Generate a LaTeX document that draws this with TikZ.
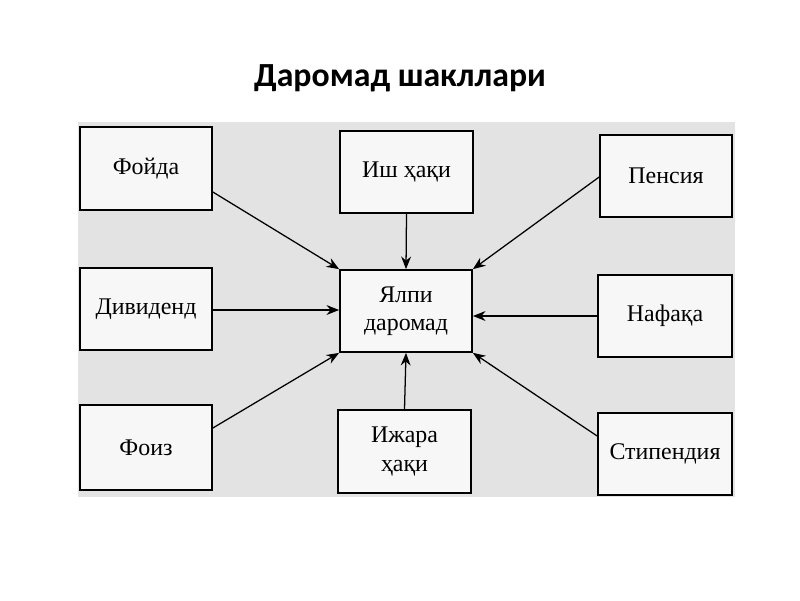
\documentclass[tikz,border=0pt]{standalone}
\usepackage{fontspec}
\setmainfont{Liberation Serif}
\newfontfamily\titlefont{Carlito}
\usetikzlibrary{arrows.meta}
\begin{document}
\begin{tikzpicture}[x=0.025cm,y=-0.025cm,
  box/.style={draw=black,line width=1.2pt,fill=gray!6,font=\fontsize{17}{20}\selectfont,align=center,inner sep=0pt},
  arr/.style={-{Stealth[length=9pt,width=7pt]},line width=0.9pt}]
\useasboundingbox (0,0) rectangle (800,600);
\fill[gray!22] (78,122) rectangle (735,497);
\node[font=\titlefont\bfseries\fontsize{24}{28}\selectfont] (t) at (400,78) {Даромад шакллари};
\newcommand{\bx}[6]{\node[box,minimum width={(#4-#2)*0.025cm},minimum height={(#5-#3)*0.025cm}] (#1) at ({(#2+#4)/2},{(#3+#5)/2}) {#6};}
\bx{a}{80}{127}{212}{210}{Фойда}
\bx{b}{340}{131}{473}{213}{Иш ҳақи}
\bx{c}{600}{135}{732}{217}{Пенсия}
\bx{d}{80}{268}{212}{350}{Дивиденд}
\bx{e}{340}{270}{472}{352}{Ялпи\\даромад}
\bx{f}{598}{275}{732}{357}{Нафақа}
\bx{g}{80}{405}{212}{490}{Фоиз}
\bx{h}{338}{410}{471}{493}{Ижара\\ҳақи}
\bx{i}{598}{413}{732}{495}{Стипендия}
\draw[arr] (a.east |- 0,192) -- (e.north west);
\draw[arr] (b.south) -- (e.north);
\draw[arr] (c.west |- 0,177) -- (e.north east);
\draw[arr] (d.east |- 0,310) -- (e.west |- 0,310);
\draw[arr] (f.west |- 0,316) -- (e.east |- 0,316);
\draw[arr] (g.east |- 0,428) -- (e.south west);
\draw[arr] (h.north) -- (e.south);
\draw[arr] (i.west |- 0,436) -- (e.south east);
\end{tikzpicture}
\end{document}
